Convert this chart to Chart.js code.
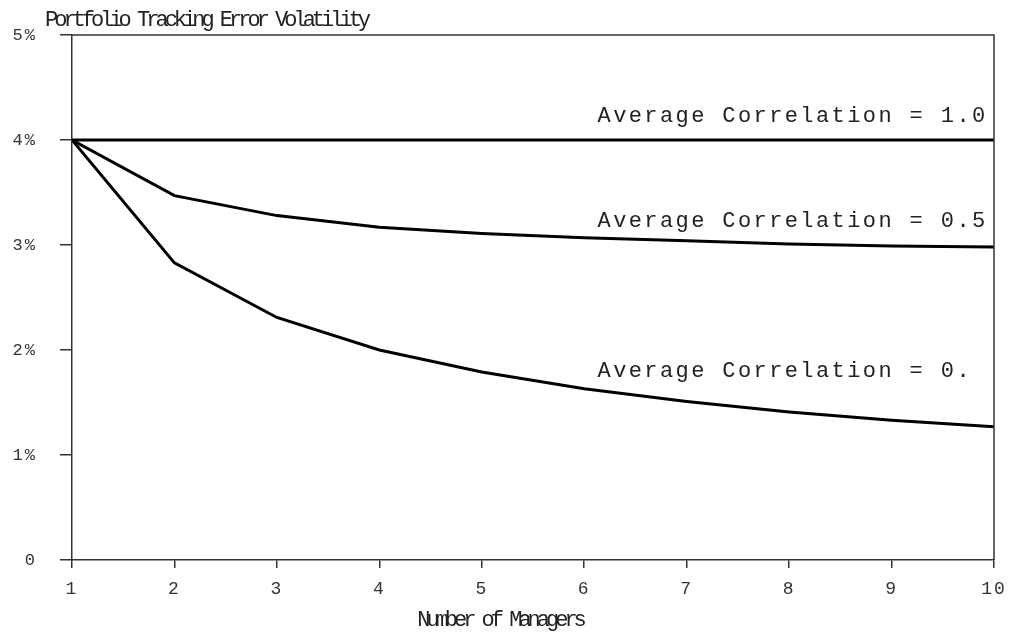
<!DOCTYPE html>
<html>
<head>
<meta charset="utf-8">
<script src="https://cdn.jsdelivr.net/npm/chart.js@4/dist/chart.umd.min.js"></script>
<style>
  body { margin: 0; background: #fff; }
  #wrap { width: 1011px; height: 632px; }
</style>
</head>
<body>
<div id="wrap"><canvas id="chart" width="1011" height="632"></canvas></div>
<script>
// Datos (volatilidad en %)
const managers = [1, 2, 3, 4, 5, 6, 7, 8, 9, 10];
const corr10 = [4, 4, 4, 4, 4, 4, 4, 4, 4, 4];
const corr05 = [4, 3.47, 3.28, 3.17, 3.11, 3.07, 3.04, 3.01, 2.99, 2.98];
const corr00 = [4, 2.83, 2.31, 2.00, 1.79, 1.63, 1.51, 1.41, 1.33, 1.27];
const seriesNames = ['Average Correlation = 1.0', 'Average Correlation = 0.5', 'Average Correlation = 0.'];
const yTickLabels = ['0', '1%', '2%', '3%', '4%', '5%'];

const chartTitle = 'Portfolio Tracking Error Volatility';
const xTitle = 'Number of Managers';

const toPoints = vals => vals.map((v, i) => ({ x: managers[i], y: v }));

// Plugin para el marco, títulos y etiquetas de las líneas
const extras = {
    id: 'extras',
    beforeDraw(chart) {
        chart.ctx.letterSpacing = '2px';
    },
    afterDraw(chart) {
        const { ctx, chartArea: a, scales } = chart;
        ctx.save();
        ctx.strokeStyle = '#333';
        ctx.lineWidth = 1.5;
        ctx.beginPath();
        ctx.moveTo(a.left, a.top);
        ctx.lineTo(a.right, a.top);
        ctx.lineTo(a.right, a.bottom);
        ctx.stroke();

        ctx.fillStyle = '#222';
        ctx.textBaseline = 'alphabetic';
        ctx.font = '22px "Liberation Mono"';
        ctx.letterSpacing = '-4px';
        ctx.textAlign = 'left';
        ctx.fillText(chartTitle, 45, 26);
        ctx.textAlign = 'center';
        ctx.fillText(xTitle, 500, 626);

        // etiquetas de cada serie
        ctx.textAlign = 'left';
        ctx.letterSpacing = '2.4px';
        const lx = scales.x.getPixelForValue(6.13);
        const anchors = [4.17, 3.17, 1.74];
        seriesNames.forEach((name, i) => {
            ctx.fillText(name, lx, scales.y.getPixelForValue(anchors[i]));
        });
        ctx.restore();
    }
};

new Chart(document.getElementById('chart'), {
    type: 'line',
    data: {
        datasets: [corr10, corr05, corr00].map((vals, i) => ({
            label: seriesNames[i],
            data: toPoints(vals),
            borderColor: '#000',
            borderWidth: 3,
            pointRadius: 0,
            tension: 0,
            fill: false
        }))
    },
    options: {
        responsive: false,
        animation: false,
        layout: { padding: { top: 35, right: 17, left: 0, bottom: 0 } },
        plugins: {
            legend: { display: false },
            tooltip: { enabled: false }
        },
        scales: {
            x: {
                type: 'linear',
                min: 1,
                max: 10,
                afterFit: s => { s.height = 72; s.paddingLeft = 0; s.paddingRight = 0; },
                border: { color: '#333', width: 1.5 },
                grid: { drawOnChartArea: false, tickLength: 8, color: '#333', lineWidth: 1.5 },
                ticks: {
                    stepSize: 1,
                    padding: 10,
                    color: '#333',
                    maxRotation: 0,
                    font: { family: '"Liberation Mono"', size: 18 }
                }
            },
            y: {
                min: 0,
                max: 5,
                afterFit: s => { s.width = 72; s.paddingTop = 0; s.paddingBottom = 0; },
                border: { color: '#333', width: 1.5 },
                grid: { drawOnChartArea: false, tickLength: 12, color: '#333', lineWidth: 1.5 },
                ticks: {
                    stepSize: 1,
                    padding: 23,
                    color: '#333',
                    font: { family: '"Liberation Mono"', size: 17 },
                    callback: v => yTickLabels[v]
                }
            }
        }
    },
    plugins: [extras]
});
</script>
</body>
</html>
